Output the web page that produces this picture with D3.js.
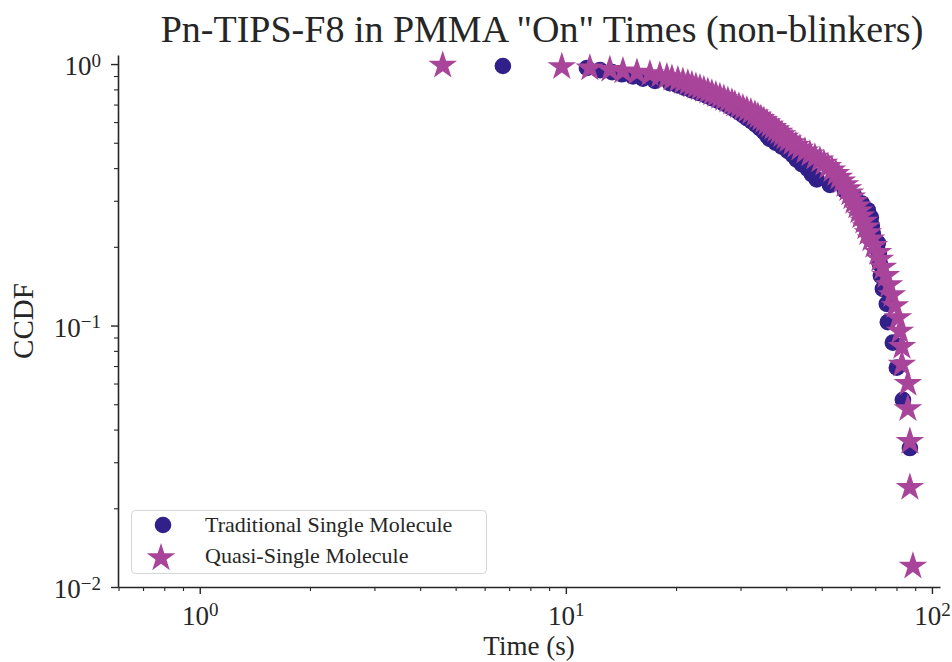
<!DOCTYPE html>
<html>
<head>
<meta charset="utf-8">
<script src="https://cdn.jsdelivr.net/npm/d3@7"></script>
<style>
  body { margin: 0; background: #fff; }
  svg text { font-family: "Liberation Serif", "Times New Roman", serif; fill: #262626; }
</style>
</head>
<body>
<div id="chart"></div>
<script>
// Traditional single molecule: time (s) and CCDF
const tradTime = [6.73, 11.42, 12.40, 13.37, 14.23, 15.25, 16.24, 17.51, 19.24, 20.23,
  21.14, 22.09, 23.08, 24.12, 25.05, 26.00, 27.01, 27.87, 28.77, 29.68,
  30.45, 31.22, 32.21, 33.03, 33.87, 34.73, 35.40, 36.06, 37.46, 38.91,
  40.39, 41.68, 42.74, 44.10, 45.80, 46.96, 48.47, 52.62, 57.82, 61.57,
  64.35, 66.82, 68.10, 68.53, 68.96, 71.16, 71.61, 72.06, 72.52, 73.43,
  75.28, 75.77, 78.19, 80.19, 83.31, 87.04];
const tradCcdf = [.983, .966, .948, .931, .914, .897, .879, .862, .845, .828,
  .810, .793, .776, .759, .741, .724, .707, .690, .672, .655,
  .638, .621, .603, .586, .569, .552, .534, .517, .500, .483,
  .466, .448, .431, .414, .397, .379, .362, .345, .328, .310,
  .293, .276, .259, .241, .224, .207, .190, .172, .155, .138,
  .121, .103, .086, .069, .052, .034];

// Quasi-single molecule: time (s) and CCDF
const quasiTime = [4.61, 9.75, 11.63, 13.19, 14.32, 15.64, 16.97,
  18.06, 18.88, 19.49, 20.23, 20.88, 21.54, 22.10, 22.66, 23.24, 23.82,
  24.43, 25.05, 25.69, 26.35, 27.02, 27.71, 28.42, 28.95, 29.70, 30.45,
  31.23, 32.02, 32.84, 33.46, 34.10, 34.75, 35.41, 36.09, 36.77, 37.48,
  38.19, 38.92, 39.66, 40.42, 41.45, 42.50, 43.59, 44.98, 46.42, 47.90,
  49.43, 50.69, 51.98, 53.32, 54.67, 55.71, 56.77, 57.85, 58.96, 59.70,
  60.45, 61.22, 62.38, 63.18, 63.97, 65.19, 66.02, 66.86, 68.13, 69.43,
  71.19, 72.09, 73.46, 74.85, 76.29, 77.74, 79.22, 80.73, 81.75, 82.79,
  82.79, 85.96, 85.96, 87.05, 87.05, 88.72];
const quasiCcdf = [.988, .976, .964, .952, .940, .929, .917, .905, .893, .881,
  .869, .857, .845, .833, .821, .810, .798, .786, .774, .762,
  .750, .738, .726, .714, .702, .690, .679, .667, .655, .643,
  .631, .619, .607, .595, .583, .571, .560, .548, .536, .524,
  .512, .500, .488, .476, .464, .452, .440, .429, .417, .405,
  .393, .381, .369, .357, .345, .333, .321, .310, .298, .286,
  .274, .262, .250, .238, .226, .214, .202, .190, .179, .167,
  .155, .143, .131, .119, .107, .095, .083, .071, .060, .048,
  .036, .024, .012];

const seriesNames = ['Traditional Single Molecule', 'Quasi-Single Molecule'];
const xMajor = [1, 10, 100];
const xMinor = [0.6, 0.7, 0.8, 0.9, 2, 3, 4, 5, 6, 7, 8, 9, 20, 30, 40, 50, 60, 70, 80, 90];
const yMajor = [0.01, 0.1, 1];
const yMinor = [0.02, 0.03, 0.04, 0.05, 0.06, 0.07, 0.08, 0.09, 0.2, 0.3, 0.4, 0.5, 0.6, 0.7, 0.8, 0.9];

const width = 952, height = 662;
const marginTop = 55, marginRight = 12, marginBottom = 75, marginLeft = 118;
const navy = '#31208a', magenta = '#a8449a', ink = '#262626';

const x = d3.scaleLog()
  .domain([0.598, 105.2])
  .range([marginLeft, width - marginRight]);

const y = d3.scaleLog()
  .domain([0.01, 1.083])
  .range([height - marginBottom, marginTop]);

const svg = d3.select('#chart').append('svg')
  .attr('width', width)
  .attr('height', height)
  .attr('viewBox', [0, 0, width, height]);

const pow10 = (d) => Math.round(Math.log10(d));

function superLabels(g) {
  g.selectAll('.tick text').each(function(d) {
    const t = d3.select(this).text('10');
    t.append('tspan')
      .attr('dy', '-0.45em')
      .attr('font-size', '19px')
      .text(String(pow10(d)).replace('-', '\u2212'));
  });
}

// x axis
svg.append('g')
  .attr('transform', `translate(0,${height - marginBottom})`)
  .call(d3.axisBottom(x).tickValues(xMinor).tickSize(4).tickFormat(''))
  .call((g) => g.select('.domain').remove())
  .call((g) => g.selectAll('line').attr('stroke', ink).attr('stroke-width', 1.1));

svg.append('g')
  .attr('transform', `translate(0,${height - marginBottom})`)
  .call(d3.axisBottom(x).tickValues(xMajor).tickSize(7).tickSizeOuter(0).tickPadding(8))
  .call((g) => g.select('.domain').attr('stroke', ink).attr('stroke-width', 1.6))
  .call((g) => g.selectAll('line').attr('stroke', ink).attr('stroke-width', 1.4))
  .call((g) => g.selectAll('text').attr('font-size', '27px').attr('dy', '0.85em'))
  .call(superLabels);

// y axis
svg.append('g')
  .attr('transform', `translate(${marginLeft},0)`)
  .call(d3.axisLeft(y).tickValues(yMinor).tickSize(4).tickFormat(''))
  .call((g) => g.select('.domain').remove())
  .call((g) => g.selectAll('line').attr('stroke', ink).attr('stroke-width', 1.1));

svg.append('g')
  .attr('transform', `translate(${marginLeft},0)`)
  .call(d3.axisLeft(y).tickValues(yMajor).tickSize(7).tickSizeOuter(0).tickPadding(10))
  .call((g) => g.select('.domain').attr('stroke', ink).attr('stroke-width', 1.6))
  .call((g) => g.selectAll('line').attr('stroke', ink).attr('stroke-width', 1.4))
  .call((g) => g.selectAll('text').attr('font-size', '27px').attr('dy', '0.4em'))
  .call(superLabels);

// points
const trad = tradTime.map((t, i) => ({t, c: tradCcdf[i]}));
const quasi = quasiTime.map((t, i) => ({t, c: quasiCcdf[i]}));

svg.append('g').selectAll('circle')
  .data(trad)
  .join('circle')
    .attr('cx', (d) => x(d.t))
    .attr('cy', (d) => y(d.c))
    .attr('r', 8.3)
    .attr('fill', navy);

const star = d3.symbol(d3.symbolStar, 253);
svg.append('g').selectAll('path')
  .data(quasi)
  .join('path')
    .attr('transform', (d) => `translate(${x(d.t)},${y(d.c)})`)
    .attr('d', star)
    .attr('fill', magenta);

// labels
svg.append('text')
  .attr('x', 542).attr('y', 42)
  .attr('text-anchor', 'middle')
  .attr('font-size', '38px')
  .text('Pn-TIPS-F8 in PMMA "On" Times (non-blinkers)');

svg.append('text')
  .attr('x', (marginLeft + width - marginRight) / 2).attr('y', 655)
  .attr('text-anchor', 'middle')
  .attr('font-size', '27px')
  .text('Time (s)');

svg.append('text')
  .attr('transform', `translate(33,${(marginTop + height - marginBottom) / 2}) rotate(-90)`)
  .attr('text-anchor', 'middle')
  .attr('font-size', '29px')
  .text('CCDF');

// legend
const legend = svg.append('g');
legend.append('rect')
  .attr('x', 131.5).attr('y', 510.5)
  .attr('width', 355).attr('height', 63)
  .attr('rx', 4)
  .attr('fill', '#fff').attr('fill-opacity', 0.8)
  .attr('stroke', '#d6d6d6');
legend.append('circle')
  .attr('cx', 163).attr('cy', 525).attr('r', 8.3).attr('fill', navy);
legend.append('path')
  .attr('transform', 'translate(161,558)')
  .attr('d', star).attr('fill', magenta);
legend.selectAll('text.item')
  .data(seriesNames)
  .join('text')
    .attr('class', 'item')
    .attr('x', 205)
    .attr('y', (d, i) => 532 + i * 31)
    .attr('font-size', '22px')
    .text((d) => d);
</script>
</body>
</html>
